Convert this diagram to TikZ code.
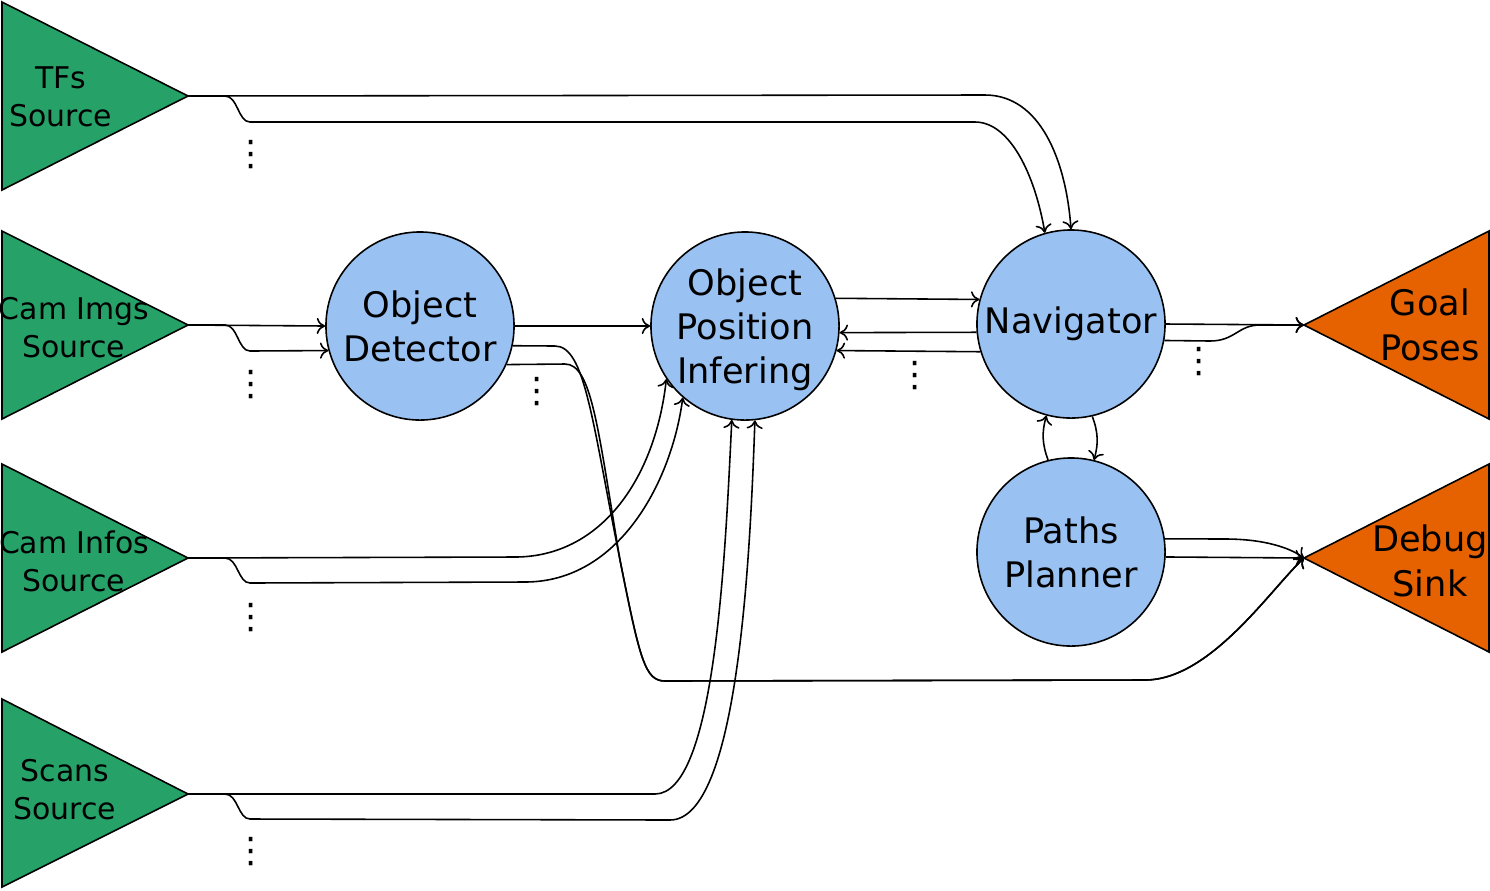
\documentclass[tikz,border=0pt]{standalone}
\usepackage{fontspec}
\setmainfont{DejaVu Sans}
\usetikzlibrary{arrows.meta,calc}
\definecolor{srcgreen}{HTML}{26A269}
\definecolor{sinkorange}{HTML}{E66100}
\definecolor{procblue}{HTML}{99C1F1}

\begin{document}
\begin{tikzpicture}[x=0.01cm,y=-0.01cm,
    proc/.style={circle,draw,fill=procblue,line width=0.45pt,minimum size=1.88cm,inner sep=0pt,align=center,font=\fontsize{10}{12.5}\selectfont},
    src/.style={draw,fill=srcgreen,line width=0.45pt},
    sink/.style={draw,fill=sinkorange,line width=0.45pt},
    srclabel/.style={align=center,inner sep=0pt,font=\fontsize{8.5}{10.8}\selectfont},
    sinklabel/.style={align=center,inner sep=0pt,font=\fontsize{10}{13}\selectfont},
    more/.style={inner sep=0pt,font=\fontsize{10}{10}\selectfont},
    flow/.style={-{To[length=2.4pt,width=4.6pt]},line width=0.45pt}]

      \useasboundingbox (0,0) rectangle (1490,890);

      % sources
      \coordinate (tfs) at (188,96);
      \coordinate (imgs) at (188,325);
      \coordinate (infos) at (188,558);
      \coordinate (scans) at (188,794);
      \filldraw[src] (2,2) -- (tfs) -- (2,190) -- cycle;
      \filldraw[src] (2,231) -- (imgs) -- (2,419) -- cycle;
      \filldraw[src] (2,464) -- (infos) -- (2,652) -- cycle;
      \filldraw[src] (2,699) -- (scans) -- (2,887) -- cycle;
      \node[srclabel] (tfslabel) at (61,97) {TFs\\Source};
      \node[srclabel] (imgslabel) at (74,328) {Cam Imgs\\Source};
      \node[srclabel] (infoslabel) at (74,561) {Cam Infos\\Source};
      \node[srclabel] (scanslabel) at (65,790) {Scans\\Source};

      % sinks
      \coordinate (goal) at (1304,325);
      \coordinate (debug) at (1304,558);
      \filldraw[sink] (1489,231) -- (goal) -- (1489,419) -- cycle;
      \filldraw[sink] (1489,464) -- (debug) -- (1489,652) -- cycle;
      \node[sinklabel] (goallabel) at (1430,325) {Goal\\Poses};
      \node[sinklabel] (debuglabel) at (1430,561) {Debug\\Sink};

      % processes
      \node[proc] (det) at (420,326) {Object\\Detector};
      \node[proc,text depth=0pt] (opi) at (745,326) {Object\\Position\\Infering};
      \node[proc] (nav) at (1071,324) {Navigator};
      \node[proc] (plan) at (1071,552) {Paths\\Planner};

      % TFs
      \draw[flow] (tfs) -- (985,95) .. controls (1040,95) and (1066,160) .. (nav.90);
      \draw[flow] (tfs) -- (225,96) .. controls (238,96) and (238,122) .. (250,122)
        -- (975,122) .. controls (1010,122) and (1035,175) .. (nav.106);

      % cam imgs
      \draw[flow] (imgs) -- (det.180);
      \draw[flow] (imgs) -- (225,325) .. controls (238,325) and (238,351) .. (250,351) -- (det.195);

      % detector
      \draw[flow] (det.0) -- (opi.180);
      \draw[flow] (det.-12) -- (555,346) .. controls (585,346) and (592,420) .. (620,560)
        .. controls (640,660) and (645,681) .. (665,681) -- (1145,680)
        .. controls (1210,680) and (1270,590) .. (debug);
      \draw[flow] (det.-24) -- (565,364) .. controls (592,364) and (598,430) .. (620,560)
        .. controls (640,660) and (645,681) .. (665,681) -- (1145,680)
        .. controls (1210,680) and (1270,590) .. (debug);

      % cam infos
      \draw[flow] (infos) -- (515,557) .. controls (600,557) and (655,480) .. (opi.214);
      \draw[flow] (infos) -- (225,558) .. controls (238,558) and (238,583) .. (250,583)
        -- (525,582) .. controls (620,582) and (672,480) .. (opi.229);

      % scans
      \draw[flow] (scans) -- (655,794) .. controls (715,794) and (725,560) .. (opi.262);
      \draw[flow] (scans) -- (225,794) .. controls (238,794) and (238,819) .. (250,819)
        -- (670,820) .. controls (738,820) and (750,560) .. (opi.276);

      % position infering <-> navigator
      \draw[flow] (opi.17) -- (nav.165);
      \draw[flow] (nav.185) -- (opi.-4);
      \draw[flow] (nav.197) -- (opi.-15);

      % navigator
      \draw[flow] (nav.0) -- (goal);
      \draw[flow] (nav.-10) -- (1210,341) .. controls (1235,341) and (1238,325) .. (1260,325) -- (goal);
      \draw[flow] (plan.104) to[bend left=18] (nav.255);
      \draw[flow] (nav.283) to[bend left=18] (plan.76);

      % planner
      \draw[flow] (plan.8) -- (1225,539) .. controls (1265,539) and (1290,548) .. (debug);
      \draw[flow] (plan.-3) -- (debug);

      % more outputs
      \node[more] (tfsmore) at (251,155) {⋮};
      \node[more] (imgsmore) at (251,385) {⋮};
      \node[more] (infosmore) at (251,618) {⋮};
      \node[more] (scansmore) at (251,852) {⋮};
      \node[more] (detmore) at (537,392) {⋮};
      \node[more] (opimore) at (915,376) {⋮};
      \node[more] (navmore) at (1199,362) {⋮};

    \end{tikzpicture}
\end{document}
